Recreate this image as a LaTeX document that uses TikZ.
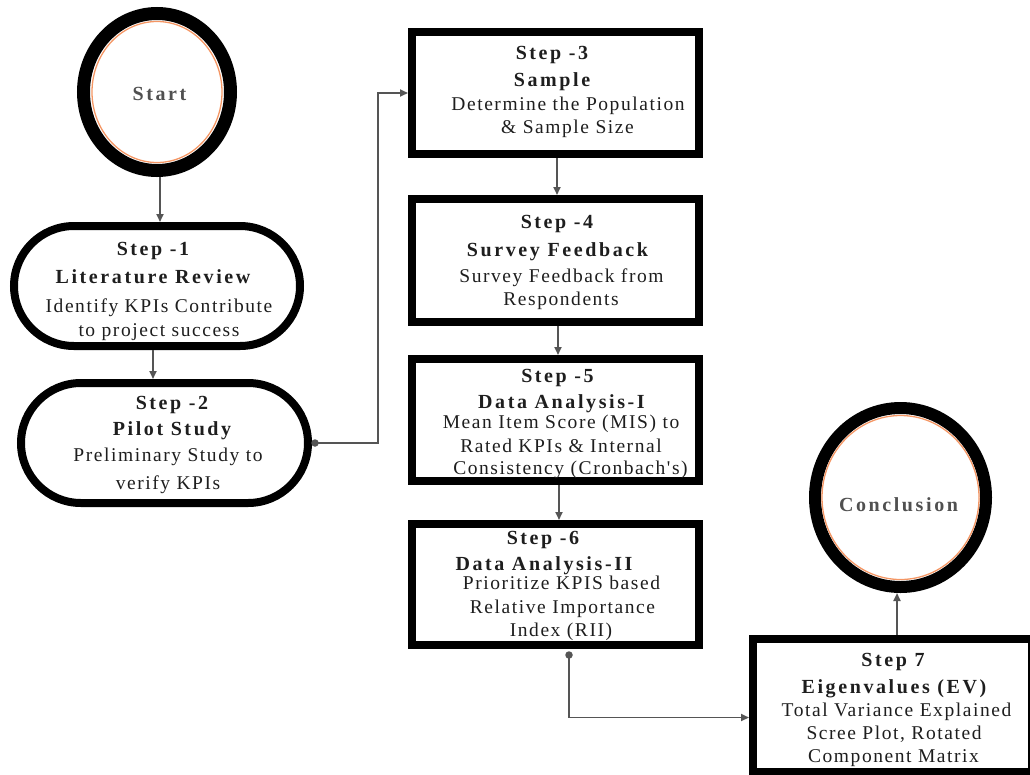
\documentclass[tikz,border=0pt]{standalone}
\usepackage{fontspec}
\setmainfont{Liberation Serif}
\newfontfamily\ttlfont{Liberation Serif}[LetterSpace=13]
\newfontfamily\bodyfont{Liberation Serif}[LetterSpace=8]
\usetikzlibrary{shapes.geometric,shapes.misc,arrows.meta,calc}
\definecolor{ringorange}{RGB}{244,150,100}
\definecolor{conngray}{RGB}{85,85,85}
\definecolor{txt}{RGB}{30,30,30}
\definecolor{circtxt}{RGB}{80,80,80}
\tikzset{
  box/.style={draw=black, line width=8pt, rectangle, inner sep=0pt},
  pill/.style={draw=black, line width=8pt, rounded rectangle, inner sep=0pt},
  ring/.style={draw=black, ellipse, inner sep=0pt},
  orng/.style={draw=ringorange, line width=1.3pt, ellipse, inner sep=0pt},
  conn/.style={draw=conngray, line width=1.8pt, -{Triangle[length=8pt,width=7pt]}},
  dotc/.style={circle, fill=conngray, inner sep=0pt, minimum size=7.5pt},
  ttl/.style={anchor=base, font=\ttlfont\bfseries\fontsize{20}{22}\selectfont, text=txt, inner sep=0pt},
  body/.style={anchor=base, font=\bodyfont\fontsize{19.5}{22}\selectfont, text=txt, inner sep=0pt},
  circt/.style={anchor=base, font=\ttlfont\bfseries\fontsize{20}{22}\selectfont, text=circtxt, inner sep=0pt}
}
\begin{document}
\begin{tikzpicture}[x=1pt,y=-1pt]
\useasboundingbox (0,0) rectangle (1030,774);

% circles
\node[ring, line width=13pt, minimum width=147pt, minimum height=157pt] (start) at (157,92) {};
\node[orng, minimum width=130pt, minimum height=141pt] (startin) at (157,92) {};
\node[circt] (starttxt) at (159.5,100) {Start};

\node[ring, line width=12pt, minimum width=171pt, minimum height=179pt] (concl) at (900.5,497.5) {};
\node[orng, minimum width=157pt, minimum height=164pt] (conclin) at (900.5,497.5) {};
\node[circt] (concltxt) at (898.5,511) {Conclusion};

% step boxes
\node[pill, minimum width=286pt, minimum height=120pt] (s1) at (157,286) {};
\node[pill, minimum width=287pt, minimum height=120pt] (s2) at (164.5,443) {};
\node[box, minimum width=287pt, minimum height=122pt] (s3) at (555.5,93) {};
\node[box, minimum width=287pt, minimum height=123pt] (s4) at (555.5,260.5) {};
\node[box, minimum width=287pt, minimum height=122pt] (s5) at (555.5,420) {};
\node[box, minimum width=287pt, minimum height=121pt] (s6) at (555.5,584.5) {};
\node[box, minimum width=279pt, minimum height=133pt] (s7) at (892.5,705.5) {};

% texts step 1
\node[ttl] (s1a) at (153,255) {Step -1};
\node[ttl] (s1b) at (153,283) {Literature Review};
\node[body] (s1c) at (159,312) {Identify KPIs Contribute};
\node[body] (s1d) at (159,336) {to project success};
% step 2
\node[ttl] (s2a) at (172,409) {Step -2};
\node[ttl] (s2b) at (172,435) {Pilot Study};
\node[body] (s2c) at (168,461) {Preliminary Study to};
\node[body] (s2d) at (168,489) {verify KPIs};
% step 3
\node[ttl] (s3a) at (552,59) {Step -3};
\node[ttl] (s3b) at (552,86) {Sample};
\node[body] (s3c) at (568,110) {Determine the Population};
\node[body] (s3d) at (567.5,133) {\& Sample Size};
% step 4
\node[ttl] (s4a) at (557,228) {Step -4};
\node[ttl] (s4b) at (557.5,256) {Survey Feedback};
\node[body] (s4c) at (561.5,282) {Survey Feedback from};
\node[body] (s4d) at (561,305) {Respondents};
% step 5
\node[ttl] (s5a) at (557.5,382) {Step -5};
\node[ttl] (s5b) at (561.5,408) {Data Analysis-I};
\node[body] (s5c) at (561,428) {Mean Item Score (MIS) to};
\node[body] (s5d) at (561,452) {Rated KPIs \& Internal};
\node[body] (s5e) at (570.5,474) {Consistency (Cronbach's)};
% step 6
\node[ttl] (s6a) at (543,544) {Step -6};
\node[ttl] (s6b) at (544,570) {Data Analysis-II};
\node[body] (s6c) at (561.5,589) {Prioritize KPIS based};
\node[body] (s6d) at (562.5,613) {Relative Importance};
\node[body] (s6e) at (561,636) {Index (RII)};
% step 7
\node[ttl] (s7a) at (893,666) {Step 7};
\node[ttl] (s7b) at (894,693) {Eigenvalues (EV)};
\node[body] (s7c) at (896.5,716) {Total Variance Explained};
\node[body] (s7d) at (894,739) {Scree Plot, Rotated};
\node[body] (s7e) at (893.5,762) {Component Matrix};

% connectors
\coordinate (a0) at ($(start.south)+(3,0)$);
\draw[conn] (a0) -- (a0 |- s1.north);
\coordinate (a1) at ($(s1.south)+(-4,0)$);
\draw[conn] (a1) -- (a1 |- s2.north);

\node[dotc] (d2) at ($(s2.east)+(3,0)$) {};
\coordinate (b23) at ($(s3.west)+(-30,0)$);
\draw[conn] (d2.center) -| (b23) -- (s3.west);

\coordinate (a3) at ($(s3.south)+(1.5,0)$);
\draw[conn] (a3) -- (a3 |- s4.north);
\coordinate (a4) at ($(s4.south)+(2.5,0)$);
\draw[conn] (a4) -- (a4 |- s5.north);
\coordinate (a5) at ($(s5.south)+(3.5,0)$);
\draw[conn] (a5) -- (a5 |- s6.north);

\node[dotc] (d6) at ($(s6.south)+(13.5,6)$) {};
\coordinate (b67) at ($(s7.west)+(0,12)$);
\draw[conn] (d6.center) |- (b67);

\coordinate (a7) at ($(s7.north)+(4.5,0)$);
\draw[conn] (a7) -- (a7 |- concl.south);
\end{tikzpicture}
\end{document}
